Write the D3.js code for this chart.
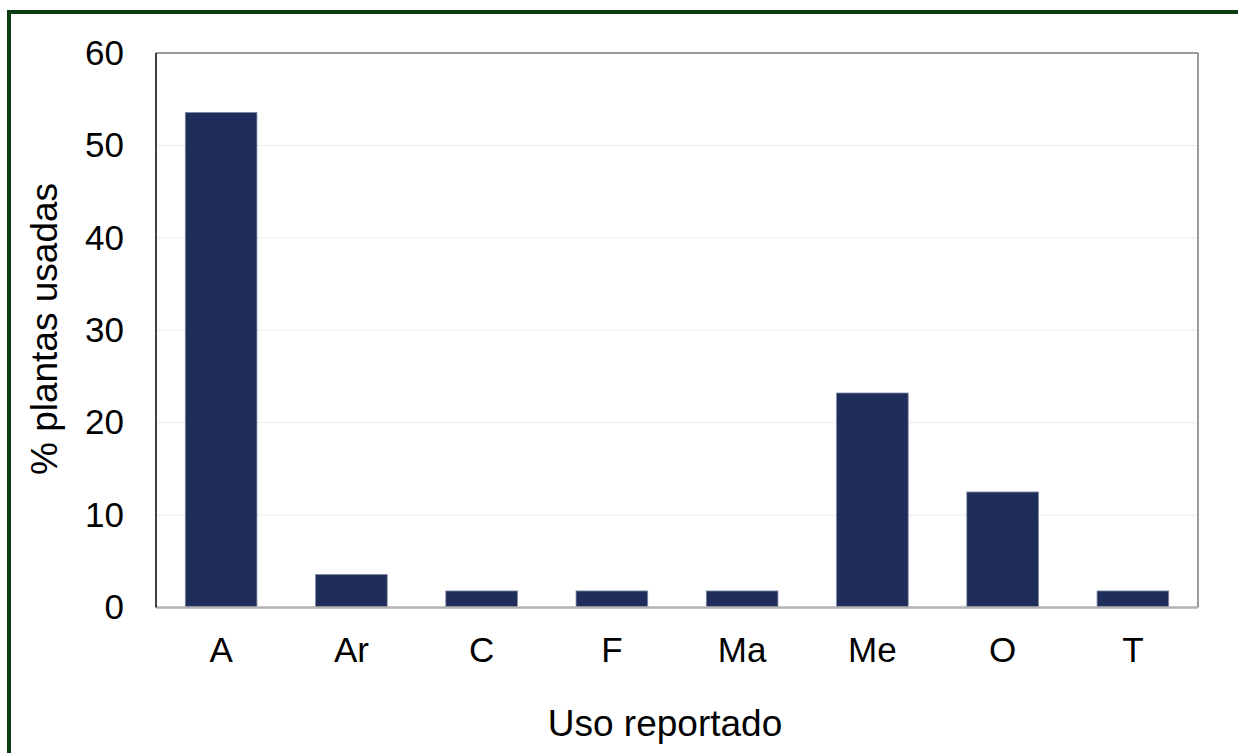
<!DOCTYPE html>
<html>
<head>
<meta charset="utf-8">
<script src="https://cdn.jsdelivr.net/npm/d3@7"></script>
<style>
  body { margin: 0; background: #fff; }
  svg { display: block; font-family: "Liberation Sans", Arial, sans-serif; }
</style>
</head>
<body>
<div id="chart"></div>
<script>
// data (% of plants per reported use)
var categories = ["A", "Ar", "C", "F", "Ma", "Me", "O", "T"];
var values = [53.57, 3.57, 1.79, 1.79, 1.79, 23.21, 12.5, 1.79];
var yTicks = [0, 10, 20, 30, 40, 50, 60];

var W = 1238, H = 753;
// plot area edges (note: "top" is taken by window.top)
var plotL = 156, plotR = 1198, plotT = 53, plotB = 607.5;

var svg = d3.select("#chart").append("svg").attr("width", W).attr("height", H);

// green frame, runs off the right and bottom edge
svg.append("rect")
  .attr("x", 9).attr("y", 12)
  .attr("width", W + 20).attr("height", H + 20)
  .attr("fill", "#fff")
  .attr("stroke", "#0a3d12")
  .attr("stroke-width", 4);

var x = d3.scaleBand()
  .domain(categories)
  .range([plotL, plotR])
  .paddingInner(0.45)
  .paddingOuter(0.225);

var y = d3.scaleLinear()
  .domain([0, 60])
  .range([plotB, plotT]);

// gridlines
svg.append("g").selectAll("line")
  .data(yTicks.filter(function(d) { return d > 0 && d < 60; }))
  .enter().append("line")
    .attr("x1", plotL).attr("x2", plotR)
    .attr("y1", function(d) { return y(d); })
    .attr("y2", function(d) { return y(d); })
    .attr("stroke", "#ebebeb")
    .attr("stroke-width", 1);

// plot frame: top and right grey
svg.append("line").attr("x1", plotL).attr("x2", plotR).attr("y1", plotT).attr("y2", plotT)
  .attr("stroke", "#7a7a7a").attr("stroke-width", 1.5);
svg.append("line").attr("x1", plotR).attr("x2", plotR).attr("y1", plotT).attr("y2", plotB)
  .attr("stroke", "#7a7a7a").attr("stroke-width", 1.5);

// bars
svg.append("g").selectAll("rect")
  .data(values)
  .enter().append("rect")
    .attr("x", function(d, i) { return x(categories[i]); })
    .attr("y", function(d) { return y(d); })
    .attr("width", x.bandwidth())
    .attr("height", function(d) { return y(0) - y(d); })
    .attr("fill", "#1e2d5a")
    .attr("stroke", "#8089a6")
    .attr("stroke-width", 0.8);

// x axis
var xAxis = svg.append("g")
  .attr("transform", "translate(0," + plotB + ")")
  .call(d3.axisBottom(x).tickSize(0).tickPadding(30));
xAxis.select(".domain").attr("stroke", "#b3b3b3").attr("stroke-width", 2.5)
  .attr("d", "M" + plotL + ",0H" + plotR);
xAxis.selectAll("text").attr("font-size", "35px").attr("fill", "#000")
  .attr("font-family", "Liberation Sans, Arial, sans-serif");

// y axis
var yAxis = svg.append("g")
  .attr("transform", "translate(" + plotL + ",0)")
  .call(d3.axisLeft(y).tickValues(yTicks).tickSize(0).tickPadding(32));
yAxis.select(".domain").attr("stroke", "#000").attr("stroke-width", 1.5)
  .attr("d", "M0," + plotT + "V" + plotB);
yAxis.selectAll("text").attr("font-size", "35px").attr("fill", "#000")
  .attr("font-family", "Liberation Sans, Arial, sans-serif");

// axis titles
svg.append("text")
  .attr("x", 665).attr("y", 736)
  .attr("text-anchor", "middle")
  .attr("font-size", "37px")
  .text("Uso reportado");

svg.append("text")
  .attr("transform", "translate(57,329) rotate(-90)")
  .attr("text-anchor", "middle")
  .attr("font-size", "37px")
  .text("% plantas usadas");
</script>
</body>
</html>
